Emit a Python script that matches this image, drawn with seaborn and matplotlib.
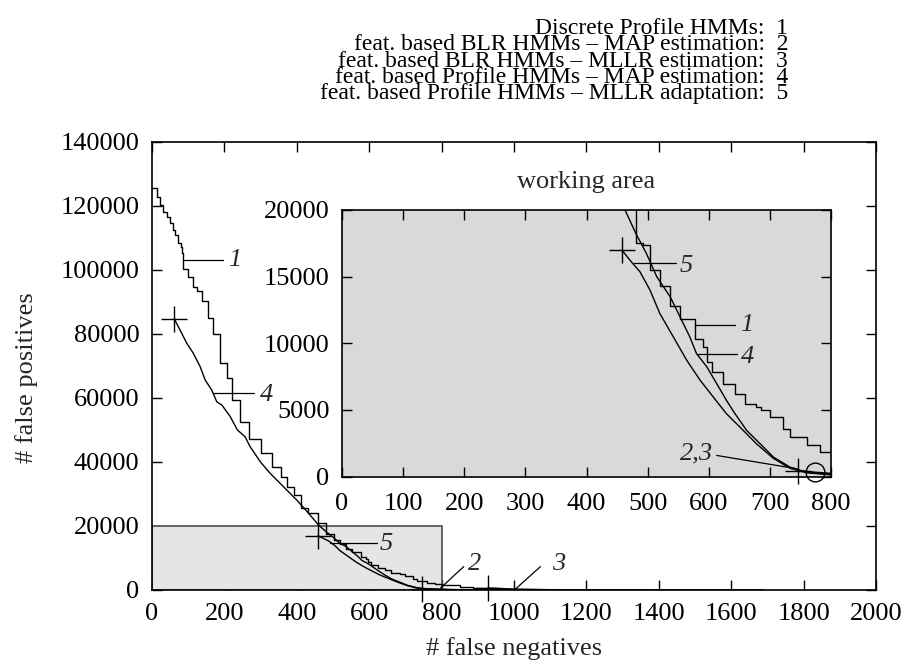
import numpy as np
import pandas as pd
import matplotlib
matplotlib.use("Agg")
import matplotlib.pyplot as plt
import seaborn as sns

# ---------------- data ----------------
# 1: Discrete Profile HMMs (staircase)
c1_x = [0, 13, 22, 31, 41, 50, 59, 64, 73, 79, 82, 85, 86.6, 100.4, 112.6, 125.3, 139,
        155.7, 169.6, 188, 206.6, 220.5, 243, 268, 300.7, 331, 356, 372.6, 391, 411,
        431.5, 459, 481, 493, 504, 520, 537, 553, 577.5, 591, 597, 605, 624, 643, 659,
        678, 686, 700, 722, 733, 760, 782, 800, 850, 888, 950, 1000, 1200, 1690]
c1_y = [125500, 122900, 120300, 118200, 116700, 114600, 112500, 110900, 108300, 107300,
        105200, 103100, 100200, 97900, 94800, 93400, 90300, 84900, 80000, 70800, 66300,
        59400, 52600, 47100, 42700, 38500, 35400, 32300, 29700, 25500, 24000, 21000,
        17500, 17370, 15490, 14290, 12780, 11850, 10350, 9720, 8600, 7850, 6970, 6220,
        5410, 5210, 4960, 4460, 3580, 2960, 2330, 1830, 1450, 1000, 530, 300, 150, 60, 0]

# 2: feat. based BLR HMMs - MAP estimation
c2_x = [746, 775, 800, 850, 900, 1000, 1690]
c2_y = [450, 320, 240, 120, 50, 20, 0]

# 3: feat. based BLR HMMs - MLLR estimation
c3_x = [928, 1000, 1100, 1300, 1690]
c3_y = [600, 300, 100, 20, 0]

# 4: feat. based Profile HMMs - MAP estimation
c4_x = [62, 77.5, 96, 114, 133, 147, 165, 179, 193, 216, 236, 257, 271, 299, 326, 363,
        400, 437, 460, 482, 498, 515, 537, 553, 569, 580, 597, 613, 629, 643, 662, 684,
        706, 733, 760, 800, 850, 900, 1000]
c4_y = [84600, 81250, 77100, 74000, 69800, 65600, 62500, 58800, 57800, 54200, 50000,
        47900, 44800, 40100, 36500, 32300, 28100, 23400, 20300, 18120, 16740, 14990,
        13480, 11980, 10480, 9220, 8220, 6970, 5710, 4710, 3460, 2460, 1450, 700, 330,
        150, 60, 20, 0]

# 5: feat. based Profile HMMs - MLLR adaptation
c5_x = [458, 471, 487.5, 504, 520, 542, 564, 586, 607.5, 629, 651, 678, 706, 733, 760,
        800, 850, 900, 1000]
c5_y = [16990, 16240, 15360, 13980, 12230, 10480, 8720, 7220, 5960, 4710, 3710, 2460,
        1350, 620, 280, 120, 50, 15, 0]

legend_lines = ["Discrete Profile HMMs:  1",
                "feat. based BLR HMMs \u2013 MAP estimation:  2",
                "feat. based BLR HMMs \u2013 MLLR estimation:  3",
                "feat. based Profile HMMs \u2013 MAP estimation:  4",
                "feat. based Profile HMMs \u2013 MLLR adaptation:  5"]

main_xticks = list(range(0, 2001, 200))
main_yticks = list(range(0, 140001, 20000))
inset_xticks = list(range(0, 801, 100))
inset_yticks = list(range(0, 20001, 5000))
working_area = (800, 20000)
circle_pt = (774, 320)

# ---------------- style ----------------
sns.set_theme(style="ticks")
plt.rcParams['font.family'] = ['Liberation Serif', 'DejaVu Serif']

FS = 19
fig = plt.figure(figsize=(9.05, 6.63), dpi=100)
ax = fig.add_axes([152/905, (663-590)/663, (876-152)/905, (590-142)/663])
ins = fig.add_axes([342/905, (663-476.5)/663, (831-342)/905, (476.5-210)/663])

curves = [(c1_x, c1_y, "steps-post"), (c2_x, c2_y, "default"), (c3_x, c3_y, "default"),
          (c4_x, c4_y, "default"), (c5_x, c5_y, "default")]


def draw_curves(a):
    for cx, cy, ds in curves:
        df = pd.DataFrame({"x": cx, "y": cy})
        sns.lineplot(data=df, x="x", y="y", ax=a, color="black", lw=1.0,
                     drawstyle=ds, estimator=None, sort=False, legend=False, zorder=3)


def style_axes(a, xt, yt, xpad, ypad):
    a.set_xticks(xt)
    a.set_yticks(yt)
    a.set_xticklabels([str(t) for t in xt])
    a.set_yticklabels([str(t) for t in yt])
    a.tick_params(direction="in", length=7.5, width=1.0, top=True, right=True,
                  labelsize=FS, colors="black")
    a.tick_params(axis="x", pad=xpad)
    a.tick_params(axis="y", pad=ypad)
    for s in a.spines.values():
        s.set_linewidth(1.2)
        s.set_color("black")


def pointer(a, x0, y0, x1, y1, txt, tx, ty, ha="left"):
    a.plot([x0, x1], [y0, y1], color="black", lw=0.9, zorder=4)
    a.text(tx, ty, txt, fontsize=FS, style="italic", ha=ha, va="center", zorder=5)


# main axes
ax.set_facecolor("white")
ax.add_patch(plt.Rectangle((0, 0), working_area[0], working_area[1], facecolor="#e5e5e5",
                           edgecolor="#4d4d4d", lw=1.2, zorder=1))
draw_curves(ax)
for cx, cy in [(c4_x, c4_y), (c5_x, c5_y), (c2_x, c2_y), (c3_x, c3_y)]:
    ax.plot(cx[0], cy[0], marker="+", ms=19, mew=1.0, color="black", zorder=4, clip_on=False)

ax.set_xlim(0, 2000)
ax.set_ylim(0, 140000)
style_axes(ax, main_xticks, main_yticks, 9.5, 9)
ax.set_xlabel("# false negatives", fontsize=FS)
ax.set_ylabel("# false positives", fontsize=FS)
ax.xaxis.set_label_coords(0.5, -0.105)
ax.yaxis.set_label_coords(-0.158, 0.475)

pointer(ax, 85, 103100, 196, 103100, "1", 210, 103100)
pointer(ax, 170, 61500, 282, 61500, "4", 297, 60800)
pointer(ax, 492, 14600, 622, 14600, "5", 628, 14300)
pointer(ax, 797, 600, 861, 7300, "2", 872, 8200)
pointer(ax, 1004, 300, 1073, 7300, "3", 1105, 8200)

# inset
ins.set_facecolor("#d9d9d9")
draw_curves(ins)
for cx, cy in [(c5_x, c5_y), (c2_x, c2_y)]:
    ins.plot(cx[0], cy[0], marker="+", ms=19, mew=1.0, color="black", zorder=4, clip_on=False)
ins.plot(circle_pt[0], circle_pt[1], marker="o", ms=13.5, mfc="none", mec="black",
         mew=1.0, zorder=5, clip_on=False)
ins.set_xlim(0, 800)
ins.set_ylim(0, 20000)
style_axes(ins, inset_xticks, inset_yticks, 12, 9)
ins.set_xlabel("")
ins.set_ylabel("")
ins.set_title("working area", fontsize=FS, pad=16)

pointer(ins, 477, 16040, 547, 16040, "5", 553, 15800)
pointer(ins, 577, 11350, 643, 11350, "1", 652, 11350)
pointer(ins, 583, 9220, 646, 9220, "4", 652, 9000)
pointer(ins, 613, 1580, 744, 580, "2,3", 607, 1700, ha="right")

# key text (one block, tight line spacing as in the reference)
fig.text(788/905, 1 - 18/663, "\n".join(legend_lines), fontsize=17, ha="right",
         va="top", multialignment="right", linespacing=0.71, color="black")

fig.savefig("out.png", dpi=100)
